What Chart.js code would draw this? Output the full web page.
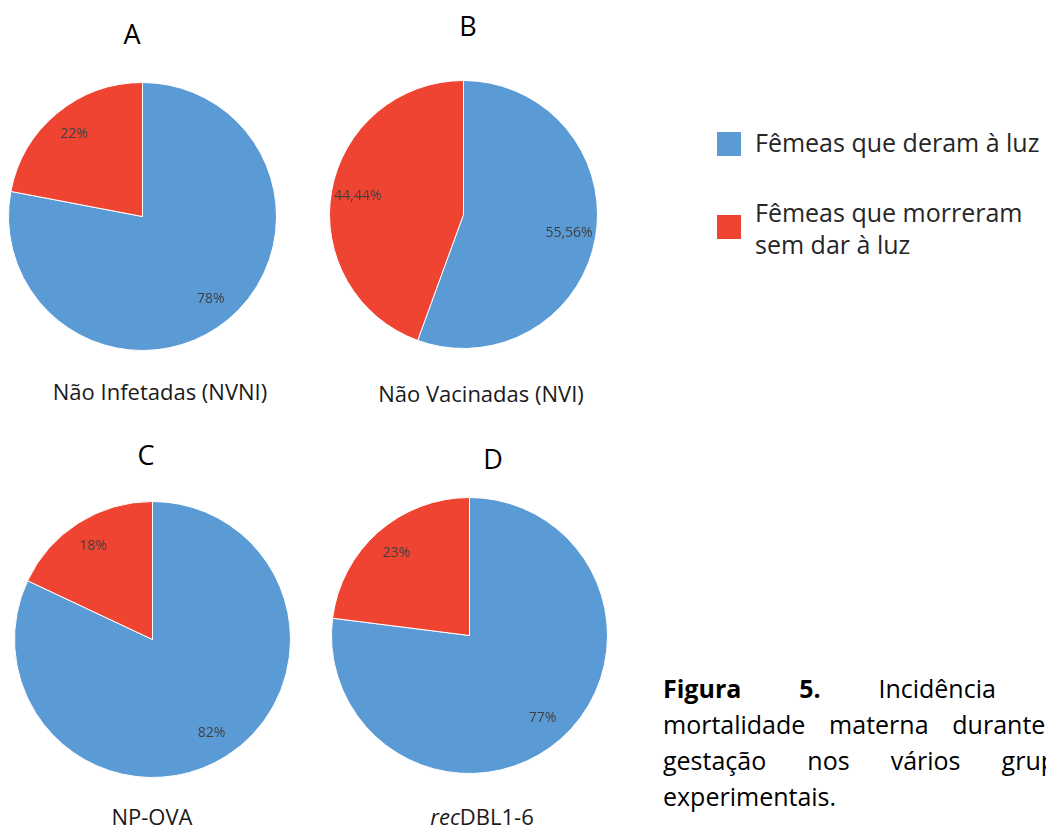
<!DOCTYPE html>
<html>
<head>
<meta charset="utf-8">
<script src="https://cdn.jsdelivr.net/npm/chart.js@4/dist/chart.umd.min.js"></script>
<style>
    html, body { margin: 0; padding: 0; background: #fff; }
    body { width: 1046px; height: 834px; position: relative; overflow: hidden; font-family: "Open Sans", sans-serif; color: #000; }
    .pie { position: absolute; }
    .letter { position: absolute; font-size: 27px; line-height: 1; transform: translateX(-50%); white-space: nowrap; }
    .group { position: absolute; font-size: 22px; line-height: 1; color: #1a1a1a; transform: translateX(-50%); white-space: nowrap; }
    #legend { position: absolute; left: 717px; top: 124px; font-size: 25px; line-height: 32px; color: #262626; }
    .leg-item { position: absolute; left: 0; white-space: nowrap; }
    .swatch { position: absolute; left: 0; width: 24px; height: 24px; }
    .leg-text { position: absolute; left: 38px; }
    #caption { position: absolute; left: 663px; top: 670px; font-size: 25px; line-height: 36px; color: #000; }
    #caption div { width: 420px; text-align: justify; text-align-last: justify; white-space: nowrap; }
    #caption div.last { text-align-last: left; }
</style>
</head>
<body>

<div id="legend"></div>
<div id="caption">
    <div><b>Figura 5.</b> Incidência de</div>
    <div>mortalidade materna durante a</div>
    <div>gestação nos vários grupos</div>
    <div class="last">experimentais.</div>
</div>

<script>
// slice categories (same order for every pie)
const categories = ['Fêmeas que deram à luz', 'Fêmeas que morreram sem dar à luz'];
const sliceColors = ['#5B9BD5', '#EF4432'];

// panel letters and group names
const panelLetters = ['A', 'B', 'C', 'D'];
const groupNames = ['Não Infetadas (NVNI)', 'Não Vacinadas (NVI)', 'NP-OVA', '<i>rec</i>DBL1-6'];

// percentages per group: [deram à luz, morreram]
const nvniValues = [78, 22];
const nviValues = [55.56, 44.44];
const npOvaValues = [82, 18];
const recDblValues = [77, 23];

// layout of each panel (pie center, radius, letter and group label positions)
const panels = [
    {values: nvniValues,   cx: 142, cy: 216, r: 134, letterX: 132, letterY: 20,  nameX: 160, nameY: 380},
    {values: nviValues,    cx: 463, cy: 214, r: 134, letterX: 468, letterY: 12,  nameX: 481, nameY: 382},
    {values: npOvaValues,  cx: 152, cy: 639, r: 138, letterX: 146, letterY: 441, nameX: 152, nameY: 805},
    {values: recDblValues, cx: 469, cy: 635, r: 138, letterX: 493, letterY: 445, nameX: 482, nameY: 805}
];

const formatPct = (v) => v.toString().replace('.', ',') + '%';

// draws the percentage inside each slice, Excel-style
const sliceLabels = {
    id: 'sliceLabels',
    afterDatasetsDraw(chart) {
        const ctx = chart.ctx;
        const meta = chart.getDatasetMeta(0);
        const data = chart.data.datasets[0].data;
        ctx.save();
        ctx.font = '14px "Open Sans", sans-serif';
        ctx.fillStyle = '#404040';
        ctx.textAlign = 'center';
        ctx.textBaseline = 'middle';
        meta.data.forEach((arc, i) => {
            const p = arc.getProps(['x', 'y', 'startAngle', 'endAngle', 'outerRadius'], true);
            const mid = (p.startAngle + p.endAngle) / 2;
            const d = p.outerRadius * 0.8;
            ctx.fillText(formatPct(data[i]), p.x + Math.cos(mid) * d, p.y + Math.sin(mid) * d);
        });
        ctx.restore();
    }
};

panels.forEach((panel, i) => {
    const size = panel.r * 2 + 1;
    const canvas = document.createElement('canvas');
    canvas.className = 'pie';
    canvas.width = size;
    canvas.height = size;
    canvas.style.left = (panel.cx - size / 2) + 'px';
    canvas.style.top = (panel.cy - size / 2) + 'px';
    canvas.style.width = size + 'px';
    canvas.style.height = size + 'px';
    document.body.appendChild(canvas);

    new Chart(canvas, {
        type: 'pie',
        data: {
            labels: categories,
            datasets: [{
                data: panel.values,
                backgroundColor: sliceColors,
                borderColor: '#ffffff',
                borderWidth: 1
            }]
        },
        options: {
            responsive: false,
            animation: false,
            layout: {padding: 0},
            plugins: {
                legend: {display: false},
                tooltip: {enabled: false},
                title: {display: false}
            }
        },
        plugins: [sliceLabels]
    });

    const letter = document.createElement('div');
    letter.className = 'letter';
    letter.textContent = panelLetters[i];
    letter.style.left = panel.letterX + 'px';
    letter.style.top = panel.letterY + 'px';
    document.body.appendChild(letter);

    const name = document.createElement('div');
    name.className = 'group';
    name.innerHTML = groupNames[i];
    name.style.left = panel.nameX + 'px';
    name.style.top = panel.nameY + 'px';
    document.body.appendChild(name);
});

// legend built from the categories
const legend = document.getElementById('legend');
const legendRows = [['Fêmeas que deram à luz'], ['Fêmeas que morreram', 'sem dar à luz']];
const legendTops = [2, 72];
const swatchTops = [8, 91];
categories.forEach((cat, i) => {
    const item = document.createElement('div');
    item.className = 'leg-item';
    item.style.top = legendTops[i] + 'px';
    const sw = document.createElement('div');
    sw.className = 'swatch';
    sw.style.background = sliceColors[i];
    sw.style.top = (swatchTops[i] - legendTops[i]) + 'px';
    const txt = document.createElement('div');
    txt.className = 'leg-text';
    txt.innerHTML = legendRows[i].join('<br>');
    item.appendChild(sw);
    item.appendChild(txt);
    legend.appendChild(item);
});
</script>
</body>
</html>
